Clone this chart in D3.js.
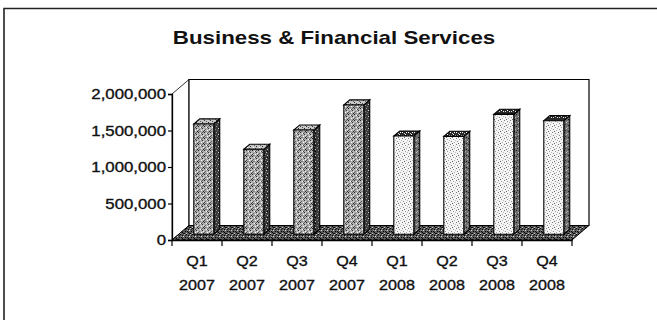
<!DOCTYPE html>
<html>
<head>
<meta charset="utf-8">
<script src="https://cdn.jsdelivr.net/npm/d3@7"></script>
<style>
  html, body { margin: 0; padding: 0; background: #fff; }
  svg { display: block; }
  text { font-family: "Liberation Sans", Arial, sans-serif; fill: #111; }
  text.lbl { stroke: #111; stroke-width: 0.35px; }
</style>
</head>
<body>
<svg id="chart" width="657" height="320"></svg>
<script>
// Quarterly totals, Business & Financial Services
const quarters = ["Q1", "Q2", "Q3", "Q4", "Q1", "Q2", "Q3", "Q4"];
const years = ["2007", "2007", "2007", "2007", "2008", "2008", "2008", "2008"];
const values = [1510000, 1163000, 1427000, 1770000, 1345000, 1340000, 1642000, 1555000];
const yTicks = [0, 500000, 1000000, 1500000, 2000000];
const title = "Business & Financial Services";

const svg = d3.select("#chart");
const keys = quarters.map((q, i) => q + " " + years[i]);

// oblique 3-D projection: depth z in [0,1] shifts right by DX and up by DY
const DX = 17, DY = 14.5;
const x = d3.scaleBand().domain(keys).range([172, 572]).padding(0);
const y = d3.scaleLinear().domain([0, 2000000]).range([240, 94]);
const P = (px, py, z) => [px + z * DX, py - z * DY];
const poly = pts => pts.map(p => p.join(",")).join(" ");

// --- stipple textures --------------------------------------------------
const defs = svg.append("defs");
function stipple(id, bg, dots, size) {
  const p = defs.append("pattern").attr("id", id)
    .attr("patternUnits", "userSpaceOnUse").attr("width", size).attr("height", size);
  p.append("rect").attr("width", size).attr("height", size).attr("fill", bg);
  dots.forEach(([dx, dy, c]) =>
    p.append("rect").attr("x", dx).attr("y", dy).attr("width", 1).attr("height", 1).attr("fill", c));
}
stipple("floorTex", "#5a5a5a",
  [[0,0,"#000"],[2,1,"#000"],[4,0,"#bbb"],[1,3,"#000"],[3,2,"#ddd"],[5,3,"#000"],
   [0,5,"#ccc"],[2,4,"#000"],[4,5,"#000"],[5,1,"#222"],[1,2,"#999"],[3,5,"#111"]], 6);
stipple("front07", "#b0b0b0",
  [[0,0,"#222"],[2,1,"#fff"],[4,2,"#333"],[1,3,"#666"],[3,4,"#fff"],[5,5,"#222"],
   [0,4,"#555"],[2,5,"#888"],[4,0,"#666"],[5,3,"#eee"],[3,1,"#444"],[1,5,"#777"]], 6);
stipple("side07", "#3a3a3a",
  [[0,0,"#999"],[2,2,"#ccc"],[1,4,"#777"],[3,1,"#000"],[3,5,"#bbb"],[5,3,"#888"]], 6);
stipple("top07", "#c8c8c8",
  [[0,0,"#333"],[2,1,"#555"],[4,2,"#222"],[1,3,"#fff"],[3,4,"#444"],[5,5,"#666"]], 6);
stipple("front08", "#f4f4f4",
  [[0,0,"#777"],[3,1,"#999"],[1,3,"#888"],[4,4,"#aaa"],[2,5,"#666"],[5,2,"#bbb"]], 6);
stipple("side08", "#6e6e6e",
  [[0,0,"#222"],[2,2,"#ccc"],[1,4,"#333"],[3,1,"#aaa"],[4,5,"#111"],[5,3,"#bbb"]], 6);
stipple("top08", "#2a2a2a",
  [[0,0,"#fff"],[2,1,"#ccc"],[4,0,"#fff"],[1,3,"#ddd"],[3,2,"#fff"],[5,3,"#eee"]], 6);

// --- outer frame --------------------------------------------------------
svg.append("path")
  .attr("d", "M4,330 L4,8.5 L660,8.5")
  .attr("fill", "none").attr("stroke", "#222").attr("stroke-width", 1.6);

// --- title --------------------------------------------------------------
function stretchedText(g, tx, ty, str, opts) {
  return g.append("text")
    .attr("class", opts.cls || null)
    .attr("transform", `translate(${tx},${ty}) scale(${opts.sx || 1.2},1)`)
    .attr("text-anchor", opts.anchor || "middle")
    .attr("dy", opts.dy || 0)
    .style("font-size", opts.size + "px")
    .style("font-weight", opts.weight || "normal")
    .text(str);
}
stretchedText(svg, 334, 44, title, { size: 18, weight: "bold", sx: 1.24 });

// --- walls & floor ------------------------------------------------------
const x0 = x.range()[0], x1 = x.range()[1];
const yb = y(0), yt = y(2000000);
const walls = svg.append("g").attr("stroke", "#000").attr("stroke-width", 1.2);
// side wall
walls.append("polygon")
  .attr("points", poly([P(x0, yb, 0), P(x0, yt, 0), P(x0, yt, 1), P(x0, yb, 1)]))
  .attr("fill", "#fff").attr("stroke-width", 0.8);
// back wall
walls.append("polygon")
  .attr("points", poly([P(x0, yb, 1), P(x0, yt, 1), P(x1, yt, 1), P(x1, yb, 1)]))
  .attr("fill", "#fff");
// floor
walls.append("polygon")
  .attr("points", poly([P(x0, yb, 0), P(x1, yb, 0), P(x1, yb, 1), P(x0, yb, 1)]))
  .attr("fill", "url(#floorTex)").attr("stroke-width", 1);

// --- bars ---------------------------------------------------------------
const Z0 = 0.4, Z1 = 0.75;
const bw = x.bandwidth() * 0.4;
const bars = svg.append("g").selectAll("g.bar")
  .data(values.map((v, i) => ({ key: keys[i], v, yr: years[i] })))
  .join("g").attr("class", "bar")
  .attr("stroke", "#000").attr("stroke-width", 1.1);

bars.each(function (d) {
  const g = d3.select(this);
  const l = x(d.key) + (x.bandwidth() - bw) / 2, r = l + bw;
  const top = y(d.v), bot = y(0);
  const tag = d.yr === "2007" ? "07" : "08";
  // side face
  g.append("polygon")
    .attr("points", poly([P(r, bot, Z0), P(r, top, Z0), P(r, top, Z1), P(r, bot, Z1)]))
    .attr("fill", `url(#side${tag})`);
  // top face
  g.append("polygon")
    .attr("points", poly([P(l, top, Z0), P(r, top, Z0), P(r, top, Z1), P(l, top, Z1)]))
    .attr("fill", `url(#top${tag})`);
  // front face
  g.append("polygon")
    .attr("points", poly([P(l, bot, Z0), P(r, bot, Z0), P(r, top, Z0), P(l, top, Z0)]))
    .attr("fill", `url(#front${tag})`);
});

// --- value axis (front-left edge) ----------------------------------------
const yAxis = svg.append("g").attr("transform", `translate(${x0},0)`)
  .call(d3.axisLeft(y).tickValues(yTicks).tickSize(4).tickFormat(() => ""));
yAxis.select(".domain").attr("stroke", "#000").attr("stroke-width", 1.3);
yAxis.selectAll(".tick line").attr("stroke", "#000").attr("stroke-width", 1.2);
yTicks.forEach(t => stretchedText(svg, 166, y(t), d3.format(",")(t),
  { size: 14, anchor: "end", dy: "0.36em", sx: 1.2, cls: "lbl" }));

// --- category axis (front edge of floor) ---------------------------------
const xAxis = svg.append("g").attr("transform", `translate(0,${yb})`)
  .call(d3.axisBottom(x).tickSize(0).tickFormat(() => ""));
xAxis.select(".domain").attr("stroke", "#000").attr("stroke-width", 1.3);
const edges = keys.map(k => x(k)).concat([x1]);
svg.append("g").selectAll("line").data(edges).join("line")
  .attr("x1", d => d).attr("x2", d => d)
  .attr("y1", yb).attr("y2", yb + 6)
  .attr("stroke", "#000").attr("stroke-width", 1.2);

keys.forEach((k, i) => {
  const cx = x(k) + x.bandwidth() / 2;
  stretchedText(svg, cx, 266, quarters[i], { size: 14, sx: 1.15, cls: "lbl" });
  stretchedText(svg, cx, 290, years[i], { size: 14, sx: 1.15, cls: "lbl" });
});
</script>
</body>
</html>
